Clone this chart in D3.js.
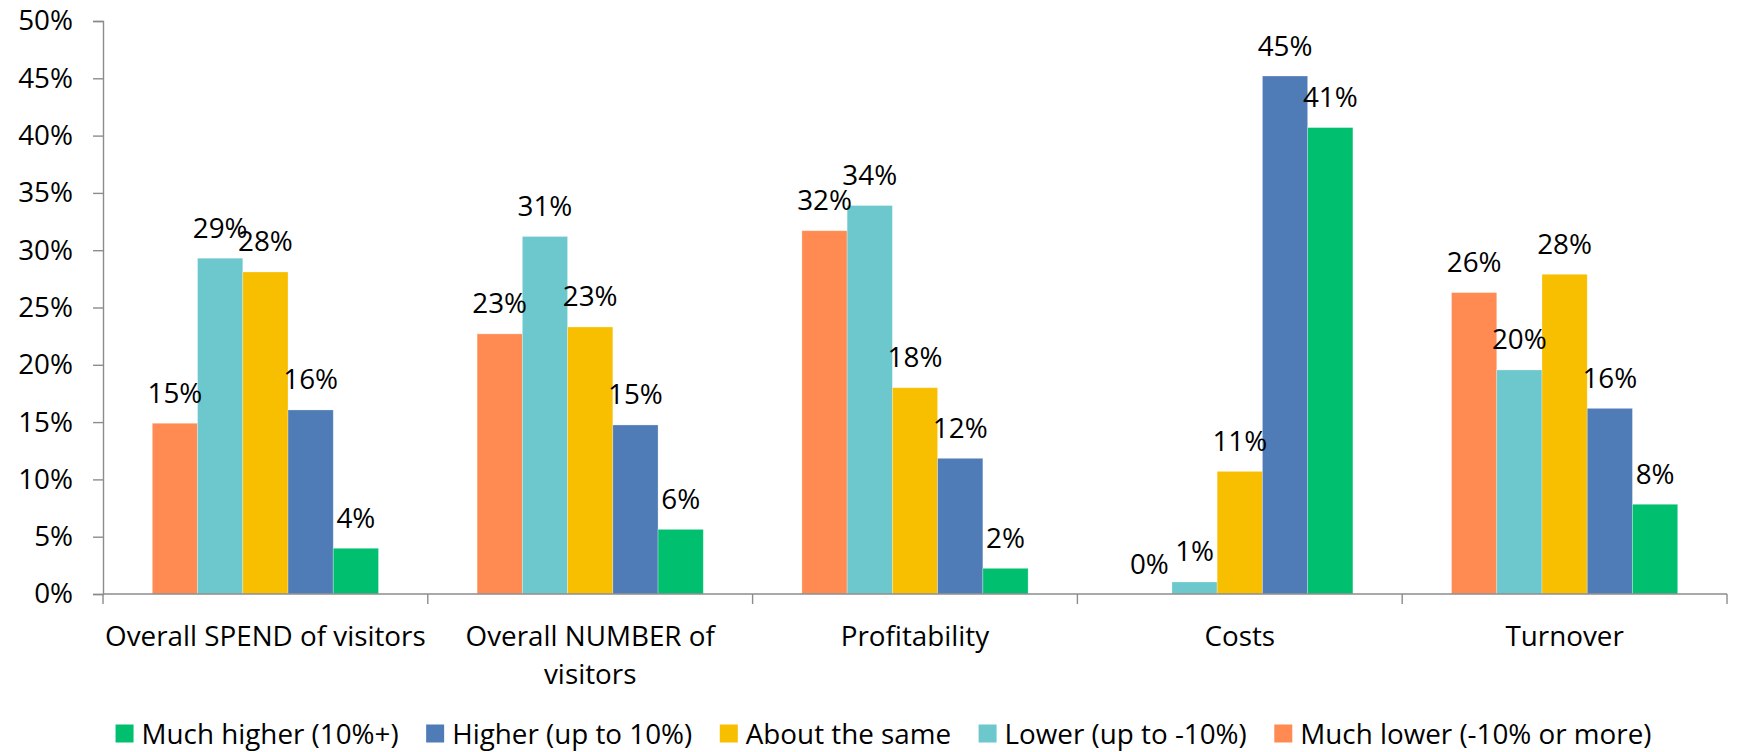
<!DOCTYPE html>
<html>
<head>
<meta charset="utf-8">
<script src="https://cdn.jsdelivr.net/npm/d3@7"></script>
<style>
  html, body { margin: 0; padding: 0; background: #fff; }
  svg { display: block; }
  text { font-family: "Open Sans", sans-serif; fill: #000; }
</style>
</head>
<body>
<div id="chart"></div>
<script>
// ---- data ----
const categories = ["Overall SPEND of visitors", "Overall NUMBER of visitors", "Profitability", "Costs", "Turnover"];
const seriesNames = ["Much lower (-10% or more)", "Lower (up to -10%)", "About the same", "Higher (up to 10%)", "Much higher (10%+)"];
const muchLower  = [14.9, 22.7, 31.7, 0.0, 26.3];
const lower      = [29.3, 31.2, 33.9, 1.05, 19.55];
const aboutSame  = [28.1, 23.3, 18.0, 10.7, 27.9];
const higher     = [16.06, 14.75, 11.84, 45.2, 16.2];
const muchHigher = [3.99, 5.64, 2.24, 40.7, 7.83];
const yTicks = [0, 5, 10, 15, 20, 25, 30, 35, 40, 45, 50];
const legendOrder = ["Much higher (10%+)", "Higher (up to 10%)", "About the same", "Lower (up to -10%)", "Much lower (-10% or more)"];
const seriesColors = ["#FF8B52", "#6CC8CC", "#F8BE00", "#4F7CB6", "#00BF6F"];

const seriesValues = [muchLower, lower, aboutSame, higher, muchHigher];

// ---- layout ----
const W = 1739, H = 752;
const svg = d3.select("#chart").append("svg").attr("width", W).attr("height", H);

const x = d3.scaleBand().domain(categories).range([103, 1727]).paddingInner(0).paddingOuter(0);
const xs = d3.scaleBand().domain(seriesNames).range([0, x.bandwidth()]).paddingInner(0).paddingOuter(1.09);
const y = d3.scaleLinear().domain([0, 50]).range([594, 21]);
const color = d3.scaleOrdinal().domain(seriesNames).range(seriesColors);

const FS = 27.8;

// bars
const rows = [];
categories.forEach((c, i) => {
  seriesNames.forEach((s, j) => rows.push({ cat: c, series: s, value: seriesValues[j][i] }));
});

svg.append("g").selectAll("rect").data(rows).join("rect")
  .attr("x", d => x(d.cat) + xs(d.series))
  .attr("y", d => y(d.value))
  .attr("width", xs.bandwidth())
  .attr("height", d => y(0) - y(d.value))
  .attr("fill", d => color(d.series))
  .attr("stroke", "rgba(255,255,255,0.35)")
  .attr("stroke-width", 0.8);

// data labels
svg.append("g").selectAll("text").data(rows).join("text")
  .attr("x", d => x(d.cat) + xs(d.series) + xs.bandwidth() / 2)
  .attr("y", d => y(d.value) - 20.5)
  .attr("text-anchor", "middle")
  .style("font-size", FS + "px")
  .text(d => Math.round(d.value) + "%");

// y axis
const yAxis = d3.axisLeft(y).tickValues(yTicks).tickSize(10).tickPadding(20).tickFormat(d => d + "%");
const gy = svg.append("g").attr("transform", "translate(103,0)").call(yAxis);
gy.select(".domain").attr("stroke", "#8C8C8C").attr("stroke-width", 1.4);
gy.selectAll(".tick line").attr("stroke", "#8C8C8C").attr("stroke-width", 1.4);
gy.selectAll(".tick text").style("font-size", FS + "px").style("font-family", "'Open Sans', sans-serif").attr("fill", "#000");

// x axis
const xBoundaries = categories.map(c => x(c)).concat([x.range()[1]]);
const gx = svg.append("g");
gx.append("line").attr("x1", 103).attr("x2", 1727).attr("y1", y(0)).attr("y2", y(0))
  .attr("stroke", "#8C8C8C").attr("stroke-width", 1.4);
gx.selectAll("line.tk").data(xBoundaries).join("line").attr("class", "tk")
  .attr("x1", d => d).attr("x2", d => d).attr("y1", y(0)).attr("y2", y(0) + 10)
  .attr("stroke", "#8C8C8C").attr("stroke-width", 1.4);

// category labels with wrapping
const catG = gx.selectAll("text.cat").data(categories).join("text").attr("class", "cat")
  .attr("text-anchor", "middle")
  .style("font-size", FS + "px")
  .attr("y", 646);
catG.each(function (c) {
  const t = d3.select(this);
  const cx = x(c) + x.bandwidth() / 2;
  const words = c.split(" ");
  let line = [], lines = [];
  const probe = t.append("tspan");
  words.forEach(w => {
    const test = line.concat([w]).join(" ");
    probe.text(test);
    if (probe.node().getComputedTextLength() > x.bandwidth() * 1.03 && line.length) {
      lines.push(line.join(" "));
      line = [w];
    } else line.push(w);
  });
  lines.push(line.join(" "));
  probe.remove();
  lines.forEach((l, k) => t.append("tspan").attr("x", cx).attr("dy", k === 0 ? 0 : 38).text(l));
});

// legend
const GAP = 27.5;
const lg = svg.append("g");
let cursor = 0;
legendOrder.forEach(name => {
  const g = lg.append("g");
  g.append("rect").attr("x", 0).attr("y", -9).attr("width", 18).attr("height", 18).attr("fill", color(name));
  const t = g.append("text").attr("x", 26).attr("y", 10).style("font-size", FS + "px").text(name);
  const w = 26 + t.node().getComputedTextLength();
  g.attr("transform", `translate(${cursor},0)`);
  cursor += w + GAP;
});
const totalW = cursor - GAP;
lg.attr("transform", `translate(${883.5 - totalW / 2},733.5)`);
</script>
</body>
</html>
